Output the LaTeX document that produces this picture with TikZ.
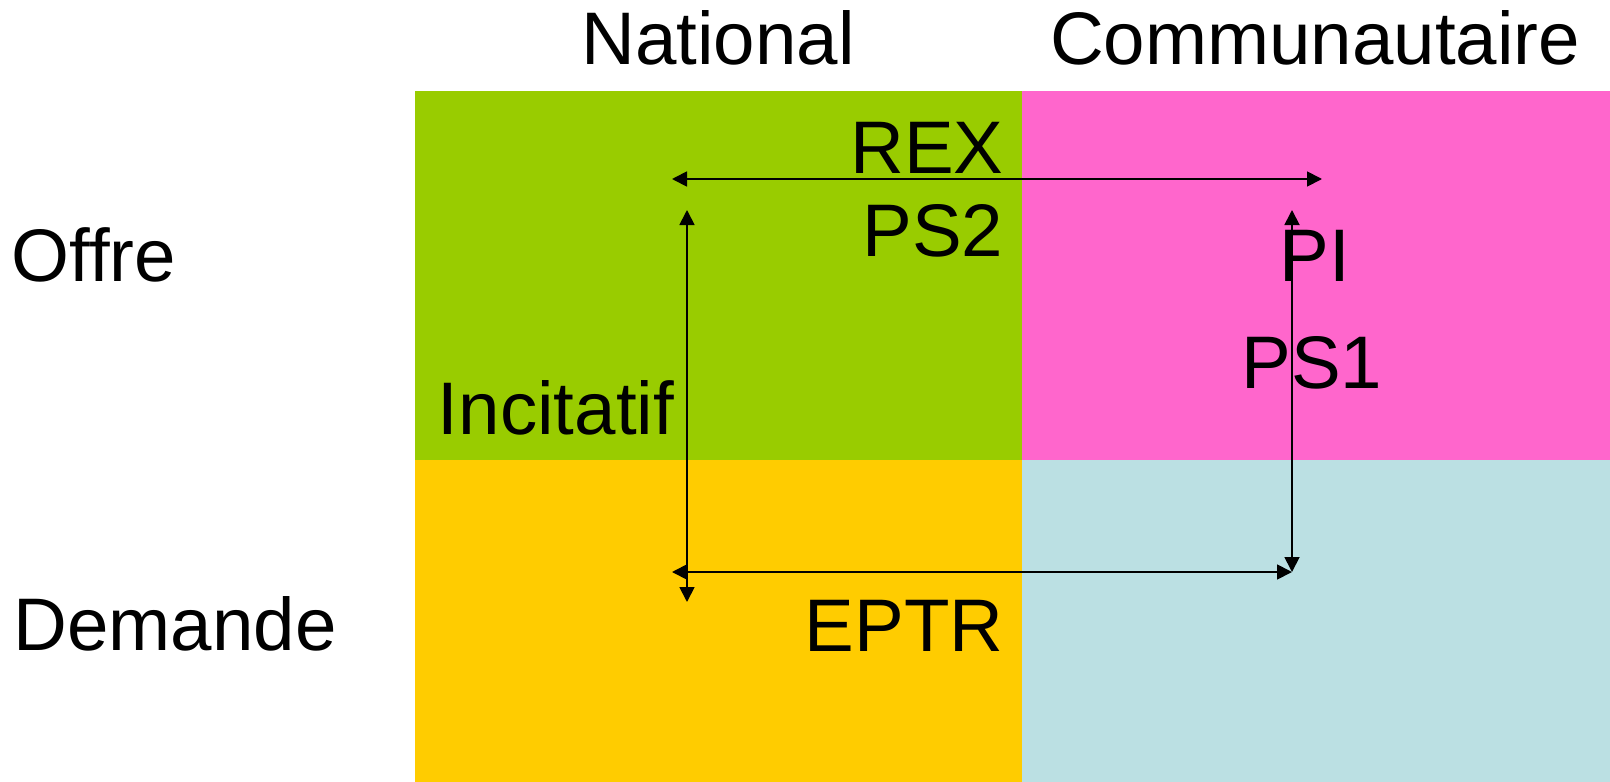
\documentclass[tikz,border=0pt]{standalone}
\usepackage{fontspec}
\setmainfont{Liberation Sans}
\usetikzlibrary{arrows.meta}
\definecolor{cgreen}{RGB}{153,204,0}
\definecolor{cpink}{RGB}{255,102,204}
\definecolor{cyellow}{RGB}{255,204,0}
\definecolor{cblue}{RGB}{187,224,227}
\tikzset{
  lbl/.style={inner sep=0pt, anchor=base, font=\fontsize{74.5}{80}\selectfont},
  dblarrow/.style={line width=1.8pt, {Triangle[length=15pt,width=15pt]}-{Triangle[length=15pt,width=15pt]}}
}
\begin{document}
\begin{tikzpicture}[x=1pt,y=-1pt]
\useasboundingbox (0,0) rectangle (1610,782);
\fill[white] (0,0) rectangle (1610,782);
\fill[cgreen] (415,91) rectangle (1022,460);
\fill[cpink] (1022,91) rectangle (1610,460);
\fill[cyellow] (415,460) rectangle (1022,782);
\fill[cblue] (1022,460) rectangle (1610,782);
\node[lbl] (national) at (718,64) {National};
\node[lbl] (commun) at (1315,64) {Communautaire};
\node[lbl] (offre) at (94,281) {Offre};
\node[lbl] (demande) at (175,650) {Demande};
\node[lbl] (rex) at (927,173) {REX};
\node[lbl] (ps2) at (933,256) {PS2};
\node[lbl] (pi) at (1315,281) {PI};
\node[lbl] (ps1) at (1312,388) {PS1};
\node[lbl] (incit) at (556,434) {Incitatif};
\node[lbl] (eptr) at (904,651) {EPTR};
\coordinate (tl) at (672,179);
\coordinate (tr) at (1322,179);
\coordinate (lt) at (687,210);
\coordinate (lb) at (687,602);
\coordinate (rt) at (1292,210);
\coordinate (rb) at (1292,572);
\coordinate (bl) at (672,572);
\coordinate (br) at (1292,572);
\draw[dblarrow] (tl) -- (tr);
\draw[dblarrow] (lt) -- (lb);
\draw[dblarrow] (rt) -- (rb);
\draw[dblarrow] (bl) -- (br);
\end{tikzpicture}
\end{document}
